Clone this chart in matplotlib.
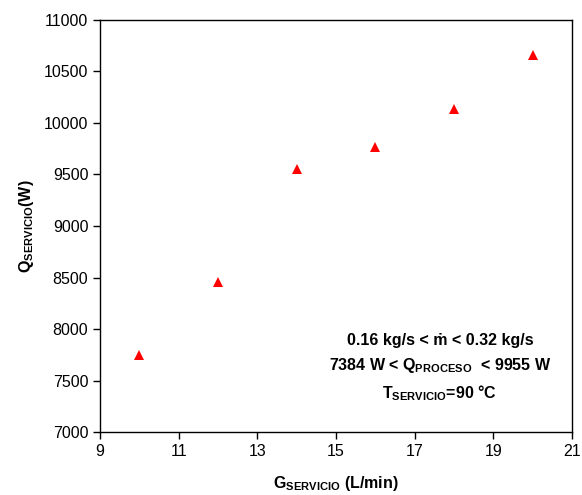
import matplotlib
matplotlib.use("Agg")
import matplotlib.pyplot as plt

plt.rcParams['font.family'] = ['Liberation Sans', 'DejaVu Sans']
plt.rcParams['mathtext.fontset'] = 'custom'
plt.rcParams['mathtext.rm'] = 'Liberation Sans'
plt.rcParams['mathtext.bf'] = 'Liberation Sans:bold'

# data
g_servicio = [10, 12, 14, 16, 18, 20]
q_servicio = [7750, 8455, 9553, 9765, 10135, 10660]

x_ticks = [9, 11, 13, 15, 17, 19, 21]
y_ticks = [7000, 7500, 8000, 8500, 9000, 9500, 10000, 10500, 11000]

fig = plt.figure(figsize=(5.82, 4.95), dpi=100)
ax = fig.add_axes([0.172, 0.127, 0.811, 0.833])

ax.plot(g_servicio, q_servicio, linestyle='none', marker='^', color='red',
        markersize=6.5, markeredgewidth=0)

ax.set_xlim(9, 21)
ax.set_ylim(7000, 11000)
ax.set_xticks(x_ticks)
ax.set_yticks(y_ticks)
ax.tick_params(direction='out', length=5, width=1, labelsize=11.5, colors='black')
for s in ax.spines.values():
    s.set_linewidth(1)

ax.set_xlabel(r'G$_{\mathbf{SERVICIO}}$ (L/min)', fontsize=11.5, fontweight='bold', labelpad=11)
ax.set_ylabel(r'Q$_{\mathbf{SERVICIO}}$(W)', fontsize=11.5, fontweight='bold', labelpad=6)

txt = ('0.16 kg/s < ṁ < 0.32 kg/s\n'
       '7384 W < Q$_{\\mathbf{PROCESO}}$  < 9955 W\n'
       'T$_{\\mathbf{SERVICIO}}$=90 °C')
ax.text(0.72, 0.155, txt, transform=ax.transAxes, ha='center', va='center',
        fontsize=11.5, fontweight='bold', linespacing=1.55)

fig.savefig('out.png', dpi=100)
